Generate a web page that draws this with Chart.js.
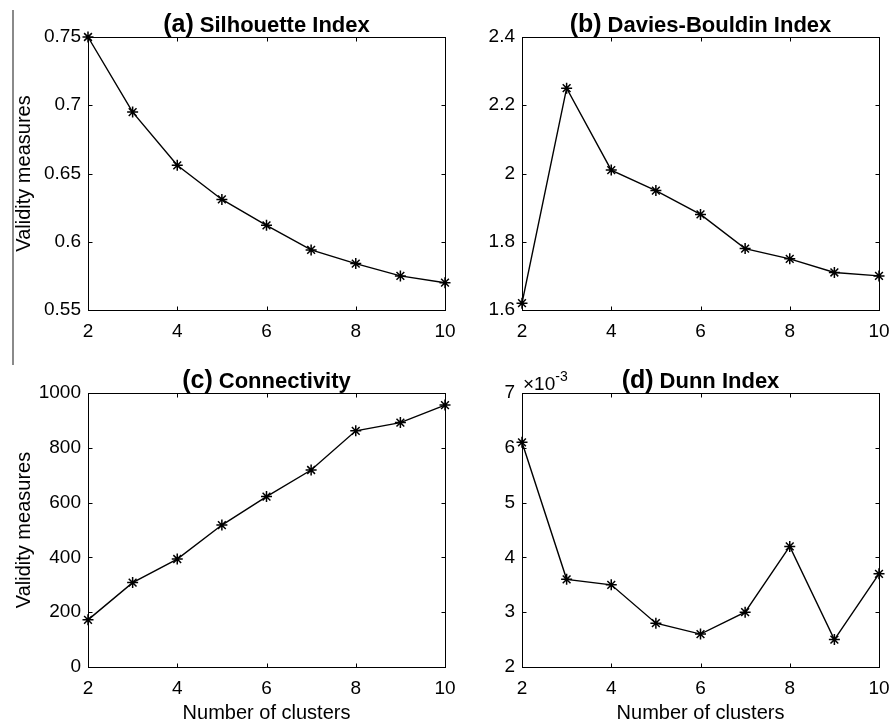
<!DOCTYPE html>
<html>
<head>
<meta charset="utf-8">
<title>Cluster validity measures</title>
<script src="https://cdn.jsdelivr.net/npm/chart.js@4.4.1/dist/chart.umd.min.js"></script>
<style>
  body { margin: 0; background: #fff; }
  #page { position: relative; width: 890px; height: 727px; overflow: hidden; }
  .panel { position: absolute; }
  #edge { position: absolute; left: 12px; top: 10px; width: 2px; height: 355px; background: #8a8a8a; }
</style>
</head>
<body>
<div id="page">
  <div id="edge"></div>
  <div class="panel" style="left:0;top:0;width:460px;height:345px"><canvas id="chartA"></canvas></div>
  <div class="panel" style="left:455px;top:0;width:440px;height:345px"><canvas id="chartB"></canvas></div>
  <div class="panel" style="left:0;top:345px;width:460px;height:382px"><canvas id="chartC"></canvas></div>
  <div class="panel" style="left:455px;top:345px;width:440px;height:382px"><canvas id="chartD"></canvas></div>
</div>
<script>
// values
const clusters = [2, 3, 4, 5, 6, 7, 8, 9, 10];
const silhouette = [0.750, 0.695, 0.656, 0.631, 0.612, 0.594, 0.584, 0.575, 0.570];
const daviesBouldin = [1.62, 2.25, 2.01, 1.95, 1.88, 1.78, 1.75, 1.71, 1.70];
const connectivity = [172, 308, 394, 518, 622, 719, 862, 892, 956];
const dunn = [0.0061, 0.0036, 0.0035, 0.0028, 0.0026, 0.0030, 0.0042, 0.0025, 0.0037];

const panelTags = ['(a)', '(b)', '(c)', '(d)'];
const panelNames = ['Silhouette Index', 'Davies-Bouldin Index', 'Connectivity', 'Dunn Index'];
const xTickStep = 2;
const yMin = [0.55, 1.6, 0, 0.002];
const yMax = [0.75, 2.4, 1000, 0.007];
const yStep = [0.05, 0.2, 200, 0.001];
const xLabel = 'Number of clusters';
const yLabel = 'Validity measures';

const FONT = '"Liberation Sans", Arial, Helvetica, sans-serif';
Chart.defaults.font.family = FONT;
Chart.defaults.color = '#000';

// box, inward ticks, panel title and exponent note
const matlabAxes = {
  id: 'matlabAxes',
  beforeDatasetsDraw(chart) {
    const { ctx, chartArea: ca } = chart;
    const xs = chart.scales.x, ys = chart.scales.y;
    const L = Math.round(ca.left) + 0.5, R = Math.round(ca.right) + 0.5;
    const T = Math.round(ca.top) + 0.5, B = Math.round(ca.bottom) + 0.5;
    ctx.save();
    ctx.strokeStyle = '#000';
    ctx.lineWidth = 1;
    ctx.strokeRect(L, T, R - L, B - T);
    ctx.beginPath();
    xs.ticks.forEach(t => {
      const px = Math.round(xs.getPixelForValue(t.value)) + 0.5;
      ctx.moveTo(px, B); ctx.lineTo(px, B - 4);
      ctx.moveTo(px, T); ctx.lineTo(px, T + 4);
    });
    ys.ticks.forEach(t => {
      const py = Math.round(ys.getPixelForValue(t.value)) + 0.5;
      ctx.moveTo(L, py); ctx.lineTo(L + 4, py);
      ctx.moveTo(R, py); ctx.lineTo(R - 4, py);
    });
    ctx.stroke();
    ctx.restore();
  },
  afterDraw(chart, args, opts) {
    const { ctx, chartArea: ca } = chart;
    ctx.save();
    ctx.fillStyle = '#000';
    ctx.textBaseline = 'alphabetic';
    ctx.textAlign = 'left';
    ctx.font = 'bold 25px ' + FONT;
    const w1 = ctx.measureText(opts.tag).width;
    ctx.font = 'bold 22px ' + FONT;
    const w2 = ctx.measureText(opts.name).width;
    const gap = 6;
    const x0 = (ca.left + ca.right) / 2 - (w1 + gap + w2) / 2;
    const base = ca.top - 5;
    ctx.font = 'bold 25px ' + FONT;
    ctx.fillText(opts.tag, x0, base);
    ctx.font = 'bold 22px ' + FONT;
    ctx.fillText(opts.name, x0 + w1 + gap, base);
    if (opts.exponent) {
      ctx.font = '19px ' + FONT;
      const ex = ca.left + 1;
      ctx.fillText('\u00d710', ex, ca.top - 3);
      const we = ctx.measureText('\u00d710').width;
      ctx.font = '14px ' + FONT;
      ctx.fillText('-3', ex + we, ca.top - 12);
    }
    ctx.restore();
  }
};

function fmt(v) {
  return String(+v.toFixed(3));
}

function buildPanel(canvasId, values, i, layout) {
  return new Chart(document.getElementById(canvasId), {
    type: 'line',
    data: {
      datasets: [{
        data: clusters.map((c, k) => ({ x: c, y: values[k] })),
        borderColor: '#000',
        borderWidth: 1.4,
        pointStyle: 'star',
        pointRadius: 5.5,
        pointBorderColor: '#000',
        pointBackgroundColor: '#000',
        pointBorderWidth: 1.5,
        tension: 0,
        clip: false
      }]
    },
    options: {
      responsive: true,
      maintainAspectRatio: false,
      animation: false,
      events: [],
      layout: { padding: layout.padding },
      plugins: {
        legend: { display: false },
        tooltip: { enabled: false },
        matlabAxes: { tag: panelTags[i], name: panelNames[i], exponent: layout.exponent }
      },
      scales: {
        x: {
          type: 'linear',
          min: 2,
          max: 10,
          grid: { display: false, drawTicks: false },
          border: { display: false },
          ticks: { stepSize: xTickStep, font: { size: 19 }, padding: 10, color: '#000', maxRotation: 0 },
          title: {
            display: layout.xTitle,
            text: xLabel,
            font: { size: 20 },
            color: '#000',
            padding: { top: 0, bottom: 2 }
          },
          afterFit(s) {
            s.height = layout.xHeight;
            s.paddingLeft = 0;
            s.paddingRight = 0;
          }
        },
        y: {
          type: 'linear',
          min: yMin[i],
          max: yMax[i],
          grid: { display: false, drawTicks: false },
          border: { display: false },
          ticks: {
            stepSize: yStep[i],
            font: { size: 19 },
            padding: 7,
            color: '#000',
            callback: layout.exponent ? (v => fmt(v * 1000)) : fmt
          },
          title: {
            display: layout.yTitle,
            text: yLabel,
            font: { size: 20 },
            color: '#000',
            padding: { top: 12, bottom: 0 }
          },
          afterFit(s) {
            s.width = layout.yWidth;
            s.paddingTop = 0;
            s.paddingBottom = 0;
          }
        }
      }
    },
    plugins: [matlabAxes]
  });
}

buildPanel('chartA', silhouette, 0, { padding: { left: 0, top: 37, right: 15, bottom: 0 }, yWidth: 88, xHeight: 35, yTitle: true, xTitle: false });
buildPanel('chartB', daviesBouldin, 1, { padding: { left: 0, top: 37, right: 16, bottom: 0 }, yWidth: 67, xHeight: 35, yTitle: false, xTitle: false });
buildPanel('chartC', connectivity, 2, { padding: { left: 0, top: 48, right: 15, bottom: 0 }, yWidth: 88, xHeight: 60, yTitle: true, xTitle: true });
buildPanel('chartD', dunn, 3, { padding: { left: 0, top: 48, right: 16, bottom: 0 }, yWidth: 67, xHeight: 60, yTitle: false, xTitle: true, exponent: true });
</script>
</body>
</html>
